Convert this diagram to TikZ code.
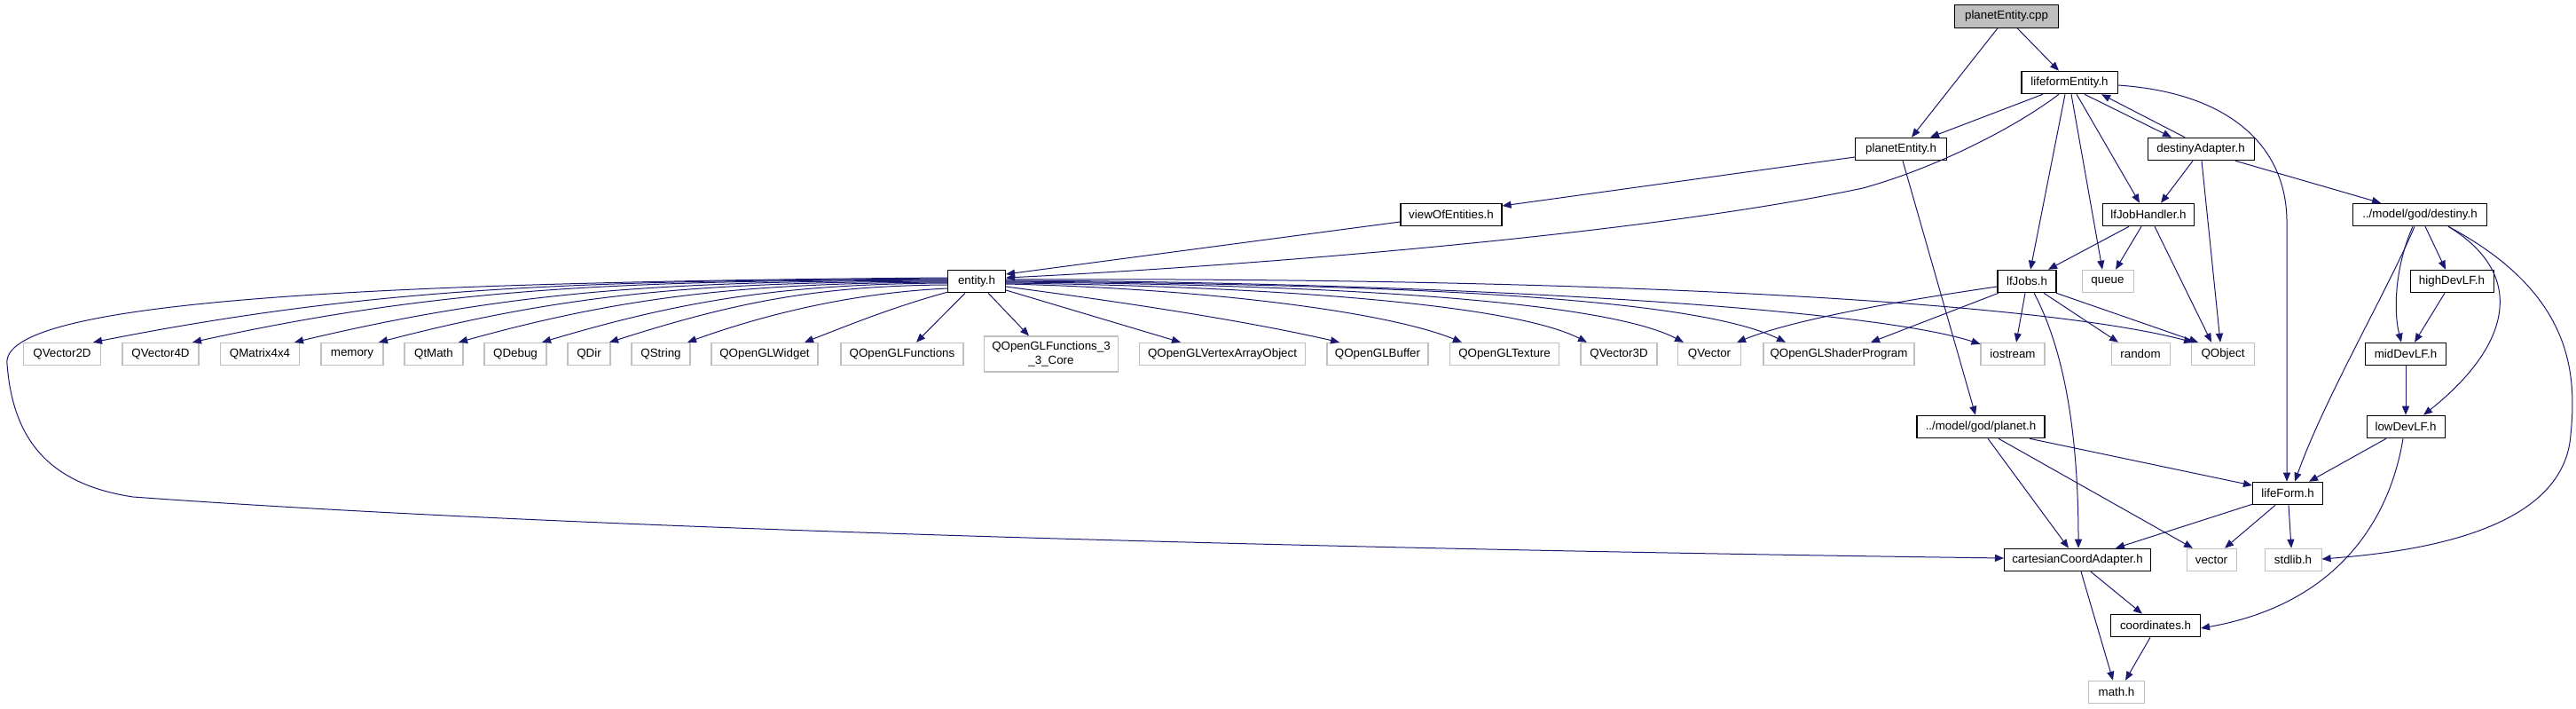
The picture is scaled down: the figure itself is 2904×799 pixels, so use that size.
\documentclass[tikz,border=0pt]{standalone}
\usepackage{fontspec}
\setmainfont{Liberation Sans}
\usetikzlibrary{arrows.meta,calc}
\definecolor{edgeblue}{HTML}{191970}
\definecolor{extgray}{HTML}{BFBFBF}
\begin{document}
\begin{tikzpicture}[x=0.75pt,y=-0.75pt,
  box/.style={draw, line width=0.8pt, fill=white, inner sep=0pt, minimum height=19.1pt, font=\fontsize{10}{11.5}\selectfont, text=black},
  doc/.style={box, draw=black},
  ext/.style={box, draw=extgray},
  bw/.style={minimum width={#1*0.75pt}},
  e/.style={draw=edgeblue, line width=0.75pt, -{Triangle[length=7.5pt,width=6pt]}}]
\fill[white] (0,0) rectangle (2904,799);
\useasboundingbox (0,0) rectangle (2904,799);
% documented nodes
\node[doc, fill=extgray, bw=117] (cpp) at (2262,18.5) {planetEntity.cpp};
\node[doc,bw=108] (lfe) at (2333,93) {lifeformEntity.h};
\node[doc,bw=103] (pe) at (2143,168) {planetEntity.h};
\node[doc,bw=120] (da) at (2481,168) {destinyAdapter.h};
\node[doc,bw=114] (voe) at (1636,242) {viewOfEntities.h};
\node[doc,bw=103] (ljh) at (2422,242) {lfJobHandler.h};
\node[doc,bw=151] (dst) at (2728,242) {../model/god/destiny.h};
\node[doc,bw=65] (ent) at (1101,317) {entity.h};
\node[doc,bw=66] (ljb) at (2285,317) {lfJobs.h};
\node[ext,bw=58] (que) at (2376,317) {queue};
\node[doc,bw=94] (hdl) at (2764,317) {highDevLF.h};
\node[doc,bw=91] (mdl) at (2712,399) {midDevLF.h};
\node[doc,bw=88] (ldl) at (2712,481) {lowDevLF.h};
\node[doc,bw=144] (pl) at (2233,481) {../model/god/planet.h};
\node[doc,bw=79] (lf) at (2579,556) {lifeForm.h};
\node[doc,bw=165] (cca) at (2342,631) {cartesianCoordAdapter.h};
\node[ext,bw=56] (vec) at (2493,631) {vector};
\node[ext,bw=64] (stdl) at (2585,631) {stdlib.h};
\node[doc,bw=101] (crd) at (2430,705) {coordinates.h};
\node[ext,bw=63] (math) at (2386,780) {math.h};
% external row
\node[ext,bw=87] (v2) at (70,399) {QVector2D};
\node[ext,bw=86] (v4) at (181,399) {QVector4D};
\node[ext,bw=89] (m44) at (293,399) {QMatrix4x4};
\node[ext,bw=70] (mem) at (397,399) {memory};
\node[ext,bw=66] (qtm) at (489,399) {QtMath};
\node[ext,bw=70] (dbg) at (581,399) {QDebug};
\node[ext,bw=48] (dir) at (664,399) {QDir};
\node[ext,bw=66] (str) at (745,399) {QString};
\node[ext,bw=120] (wid) at (862,399) {QOpenGLWidget};
\node[ext,bw=138] (qf) at (1017,399) {QOpenGLFunctions};
\node[ext,bw=151,minimum height=30pt,align=center] (q33) at (1185,399) {QOpenGLFunctions\_3\\\_3\_Core};
\node[ext,bw=187] (vao) at (1378,399) {QOpenGLVertexArrayObject};
\node[ext,bw=114] (buf) at (1553,399) {QOpenGLBuffer};
\node[ext,bw=123] (tex) at (1696,399) {QOpenGLTexture};
\node[ext,bw=86] (v3) at (1825,399) {QVector3D};
\node[ext,bw=71] (qv) at (1927,399) {QVector};
\node[ext,bw=170] (shd) at (2073,399) {QOpenGLShaderProgram};
\node[ext,bw=72] (ios) at (2269,399) {iostream};
\node[ext,bw=66] (rnd) at (2413,399) {random};
\node[ext,bw=71] (qob) at (2506,399) {QObject};
% top edges
\draw[e] ($(cpp.south)+(12,0)$) -- ($(lfe.north)+(-12,0)$);
\draw[e] ($(cpp.south)+(-10,0)$) -- ($(pe.north)+(12,0)$);
\draw[e] ($(lfe.south)+(-30,0)$) -- ($(pe.north)+(33,0)$);
\draw[e] ($(lfe.south)+(17,0)$) -- ($(da.north)+(-33,0)$);
\draw[e] ($(da.north)+(-18,0)$) -- ($(lfe.south)+(36,0)$);
\draw[e] ($(lfe.south)+(-12,0)$) .. controls (2270,145) and (2180,190) .. (2100,212) .. controls (1850,265) and (1400,300) .. ($(ent.east)+(0,-4)$);
\draw[e] ($(lfe.south)+(-5,0)$) -- ($(ljb.north)+(4,0)$);
\draw[e] ($(lfe.south)+(2,0)$) -- ($(que.north)+(-6,0)$);
\draw[e] ($(lfe.south)+(8,0)$) -- ($(ljh.north)+(-10,0)$);
\draw[e] ($(lfe.east)+(0,3)$) .. controls (2520,105) and (2578,170) .. (2578,250) -- ($(lf.north)+(-1,0)$);
% destinyAdapter
\draw[e] ($(da.south)+(-9,0)$) -- ($(ljh.north)+(14,0)$);
\draw[e] ($(da.south)+(1,0)$) -- ($(qob.north)+(-3,0)$);
\draw[e] ($(da.south)+(39,0)$) -- ($(dst.north)+(-44,0)$);
% planetEntity / viewOfEntities
\draw[e] ($(pe.west)+(0,9)$) -- ($(voe.east)+(0,-10)$);
\draw[e] ($(pe.south)+(2,0)$) -- ($(pl.north)+(-6,0)$);
\draw[e] ($(voe.west)+(0,8)$) -- ($(ent.east)+(0,-8)$);
% lfJobHandler
\draw[e] ($(ljh.south)+(-22,0)$) -- ($(ljb.north)+(24,0)$);
\draw[e] ($(ljh.south)+(-8,0)$) -- ($(que.north)+(9,0)$);
\draw[e] ($(ljh.south)+(7,0)$) -- ($(qob.north)+(-13,0)$);
% lfJobs
\draw[e] ($(ljb.west)+(0,6)$) .. controls (2100,345) and (2010,365) .. ($(qv.north)+(31,0)$);
\draw[e] ($(ljb.south)+(-32,0)$) -- ($(shd.north)+(36,0)$);
\draw[e] ($(ljb.south)+(-2,0)$) -- ($(ios.north)+(4,0)$);
\draw[e] ($(ljb.south)+(19,0)$) -- ($(rnd.north)+(-25,0)$);
\draw[e] ($(ljb.south)+(33,0)$) -- ($(qob.north)+(-28,0)$);
\draw[e] ($(ljb.south)+(8,0)$) .. controls (2330,400) and (2343,500) .. ($(cca.north)+(1,0)$);
% destiny
\draw[e] ($(dst.south)+(-6,0)$) .. controls (2690,330) and (2620,450) .. ($(lf.north)+(8,0)$);
\draw[e] ($(dst.south)+(-8,0)$) .. controls (2700,300) and (2698,350) .. ($(mdl.north)+(-5,0)$);
\draw[e] ($(dst.south)+(6,0)$) -- ($(hdl.north)+(-7,0)$);
\draw[e] ($(dst.south)+(32,0)$) .. controls (2850,310) and (2830,390) .. ($(ldl.north)+(20,0)$);
\draw[e] ($(dst.south)+(32,0)$) .. controls (2900,330) and (2905,420) .. (2898,490) .. controls (2890,600) and (2720,622) .. ($(stdl.east)+(0,-1)$);
\draw[e] ($(hdl.south)+(-8,0)$) -- ($(mdl.north)+(10,0)$);
\draw[e] (mdl.south) -- (ldl.north);
\draw[e] ($(ldl.south)+(-22,0)$) -- ($(lf.north)+(24,0)$);
\draw[e] ($(ldl.south)+(-3,0)$) .. controls (2695,580) and (2640,680) .. ($(crd.east)+(0,3)$);
% planet
\draw[e] ($(pl.south)+(55,0)$) -- ($(lf.west)+(0,-9)$);
\draw[e] ($(pl.south)+(8,0)$) -- ($(cca.north)+(-10,0)$);
\draw[e] ($(pl.south)+(20,0)$) -- ($(vec.north)+(-21,0)$);
% lifeForm
\draw[e] ($(lf.south west)+(0,-1)$) -- ($(cca.north)+(43,0)$);
\draw[e] ($(lf.south)+(-14,0)$) -- ($(vec.north)+(15,0)$);
\draw[e] ($(lf.south)+(1,0)$) -- ($(stdl.north)+(-2,0)$);
% cartesian, coordinates
\draw[e] ($(cca.south)+(15,0)$) -- ($(crd.north)+(-15,0)$);
\draw[e] ($(cca.south)+(4,0)$) -- ($(math.north)+(-4,0)$);
\draw[e] ($(crd.south)+(-6,0)$) -- ($(math.north)+(10,0)$);
% entity fan
\draw[e] ($(ent.west)+(0,-3)$) .. controls (683,317) and (442,319) .. ($(v2.north)+(35,0)$);
\draw[e] ($(ent.west)+(0,-2)$) .. controls (728,317) and (515,320) .. ($(v4.north)+(36,0)$);
\draw[e] ($(ent.west)+(0,-1)$) .. controls (774,317) and (590,324) .. ($(m44.north)+(39,0)$);
\draw[e] (ent.west) .. controls (812,318) and (652,327) .. ($(mem.north)+(30,0)$);
\draw[e] ($(ent.west)+(0,1)$) .. controls (848,319) and (710,332) .. ($(qtm.north)+(28,0)$);
\draw[e] ($(ent.west)+(0,2)$) .. controls (886,320) and (771,338) .. ($(dbg.north)+(30,0)$);
\draw[e] ($(ent.west)+(0,4)$) .. controls (916,322) and (821,343) .. ($(dir.north)+(23,0)$);
\draw[e] ($(ent.west)+(0,8)$) .. controls (960,330) and (860,355) .. ($(str.north)+(30,0)$);
\draw[e] ($(ent.south west)+(0,-1)$) .. controls (1010,345) and (960,365) .. ($(wid.north)+(45,0)$);
\draw[e] ($(ent.south)+(-13,0)$) -- ($(qf.north)+(16,0)$);
\draw[e] ($(ent.south)+(13,0)$) -- ($(q33.north)+(-25,0)$);
\draw[e] ($(ent.east)+(0,10)$) -- ($(vao.north)+(-47,0)$);
\draw[e] ($(ent.east)+(0,6)$) .. controls (1300,345) and (1420,365) .. ($(buf.north)+(-43,0)$);
\draw[e] ($(ent.east)+(0,3)$) .. controls (1350,325) and (1560,350) .. ($(tex.north)+(-48,0)$);
\draw[e] ($(ent.east)+(0,2)$) .. controls (1400,322) and (1700,340) .. ($(v3.north)+(-36,0)$);
\draw[e] ($(ent.east)+(0,1)$) .. controls (1450,320) and (1800,335) .. ($(qv.north)+(-29,0)$);
\draw[e] (ent.east) .. controls (1500,320) and (1900,330) .. ($(shd.north)+(-60,0)$);
\draw[e] ($(ent.east)+(0,-1)$) .. controls (1600,318) and (2100,345) .. ($(ios.north west)+(0,2)$);
\draw[e] ($(ent.east)+(0,-2)$) .. controls (1800,312) and (2300,340) .. ($(qob.north)+(-34,0)$);
\draw[e] ($(ent.west)+(0,-4)$) .. controls (400,318) and (0,340) .. (8,410) .. controls (14,490) and (50,545) .. (150,560) .. controls (700,600) and (1600,620) .. ($(cca.west)+(0,-2)$);
\end{tikzpicture}
\end{document}
